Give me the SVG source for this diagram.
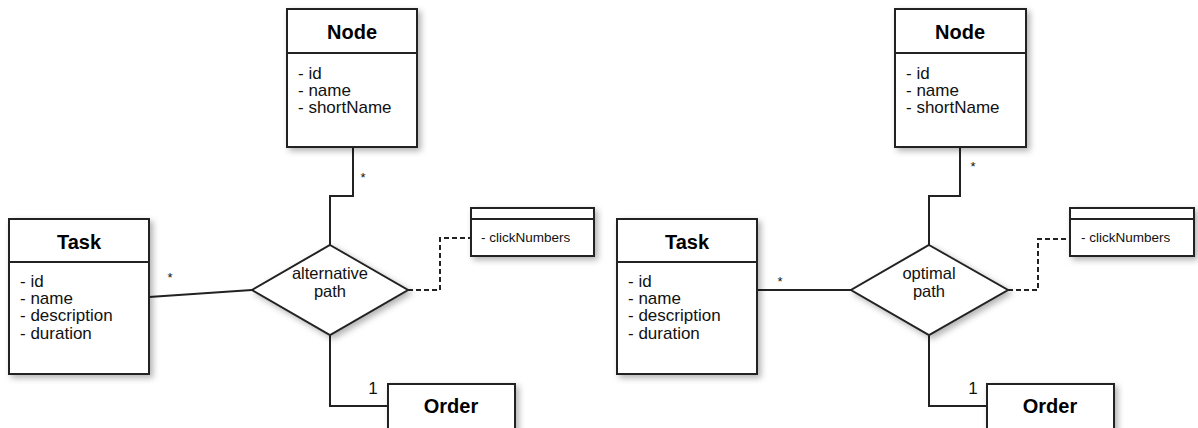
<svg xmlns="http://www.w3.org/2000/svg" width="1198" height="428" viewBox="0 0 1198 428">
  <style>
    .box { fill: #fff; stroke: #222; stroke-width: 2; filter: url(#shadow); }
    .div { stroke: #222; stroke-width: 2; fill: none; }
    .title { font-family: "Liberation Sans", Arial, sans-serif; font-size: 20px; font-weight: bold; fill: #000; text-anchor: middle; }
    .attr { font-family: "Liberation Sans", Arial, sans-serif; font-size: 17px; fill: #111; }
    .rel { font-family: "Liberation Sans", Arial, sans-serif; font-size: 16.5px; fill: #111; text-anchor: middle; }
    .small { font-family: "Liberation Sans", Arial, sans-serif; font-size: 13.5px; fill: #111; }
    .mult { font-family: "Liberation Sans", Arial, sans-serif; font-size: 13px; fill: #111; text-anchor: middle; }
    .one { font-family: "Liberation Sans", Arial, sans-serif; font-size: 17px; fill: #111; text-anchor: middle; }
    .line { stroke: #222; stroke-width: 2; fill: none; }
    .dash { stroke: #222; stroke-width: 2; fill: none; stroke-dasharray: 5 3; }
  </style>
  <defs>
    <filter id="shadow" x="-10%" y="-10%" width="130%" height="130%">
      <feDropShadow dx="3" dy="3" stdDeviation="3" flood-color="#000" flood-opacity="0.3"/>
    </filter>
  </defs>
  <rect width="1198" height="428" fill="#fff"/>

  <!-- connectors -->
  <g id="connectors">
    <!-- left relation -->
    <polyline class="line" points="353,147 353,196 330,196 330,245"/>
    <polyline class="line" points="149,297 252,290"/>
    <polyline class="line" points="330,335 330,406 388,406"/>
    <polyline class="dash" points="408,290 440,290 440,238 471,238"/>
    <!-- right relation -->
    <polyline class="line" points="960,147 960,196 929,196 929,245"/>
    <polyline class="line" points="757,290 852,290"/>
    <polyline class="line" points="929,335 929,406 987,406"/>
    <polyline class="dash" points="1008,290 1038,290 1038,239 1070,239"/>
    <!-- multiplicities -->
    <text class="mult" x="363" y="182">*</text>
    <text class="mult" x="170" y="282">*</text>
    <text class="one" x="373" y="394">1</text>
    <text class="mult" x="973" y="171">*</text>
    <text class="mult" x="780" y="286">*</text>
    <text class="one" x="973" y="394">1</text>
  </g>

  <!-- left side -->
  <g id="node-left">
    <rect class="box" x="287" y="9" width="130" height="138"/>
    <line class="div" x1="287" y1="53" x2="417" y2="53"/>
    <text class="title" x="352" y="39">Node</text>
    <text class="attr" x="298" y="79">- id</text>
    <text class="attr" x="298" y="96">- name</text>
    <text class="attr" x="298" y="113">- shortName</text>
  </g>
  <g id="task-left">
    <rect class="box" x="9" y="219" width="140" height="155"/>
    <line class="div" x1="9" y1="262" x2="149" y2="262"/>
    <text class="title" x="79" y="249">Task</text>
    <text class="attr" x="20" y="287">- id</text>
    <text class="attr" x="20" y="304">- name</text>
    <text class="attr" x="20" y="321">- description</text>
    <text class="attr" x="20" y="339">- duration</text>
  </g>
  <g id="alternative-path">
    <polygon class="box" points="330,245 408,290 330,335 252,290"/>
    <text class="rel" x="330" y="279">alternative</text>
    <text class="rel" x="330" y="297">path</text>
  </g>
  <g id="attrs-left">
    <rect class="box" x="471" y="208" width="123" height="48"/>
    <line class="div" x1="471" y1="219" x2="594" y2="219"/>
    <text class="small" x="481" y="242">- clickNumbers</text>
  </g>
  <g id="order-left">
    <rect class="box" x="388" y="384" width="127" height="60"/>
    <text class="title" x="451" y="413">Order</text>
  </g>

  <!-- right side -->
  <g id="node-right">
    <rect class="box" x="895" y="9" width="131" height="138"/>
    <line class="div" x1="895" y1="53" x2="1026" y2="53"/>
    <text class="title" x="960" y="39">Node</text>
    <text class="attr" x="906" y="79">- id</text>
    <text class="attr" x="906" y="96">- name</text>
    <text class="attr" x="906" y="113">- shortName</text>
  </g>
  <g id="task-right">
    <rect class="box" x="617" y="219" width="140" height="155"/>
    <line class="div" x1="617" y1="262" x2="757" y2="262"/>
    <text class="title" x="687" y="249">Task</text>
    <text class="attr" x="628" y="287">- id</text>
    <text class="attr" x="628" y="304">- name</text>
    <text class="attr" x="628" y="321">- description</text>
    <text class="attr" x="628" y="339">- duration</text>
  </g>
  <g id="optimal-path">
    <polygon class="box" points="929,245 1008,290 929,335 851,290"/>
    <text class="rel" x="929" y="279">optimal</text>
    <text class="rel" x="929" y="297">path</text>
  </g>
  <g id="attrs-right">
    <rect class="box" x="1070" y="208" width="124" height="48"/>
    <line class="div" x1="1070" y1="219" x2="1194" y2="219"/>
    <text class="small" x="1081" y="242">- clickNumbers</text>
  </g>
  <g id="order-right">
    <rect class="box" x="987" y="384" width="127" height="60"/>
    <text class="title" x="1050" y="413">Order</text>
  </g>
</svg>
